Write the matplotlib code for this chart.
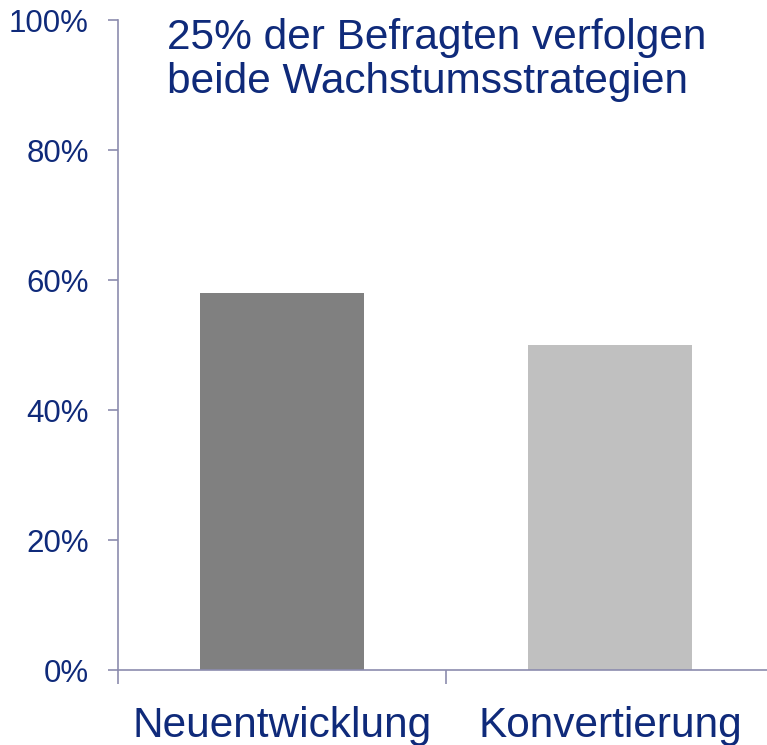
import matplotlib.pyplot as plt
from matplotlib.ticker import FixedLocator, PercentFormatter

plt.rcParams['font.family'] = ['Liberation Sans', 'DejaVu Sans']

categories = ["Neuentwicklung", "Konvertierung"]
values = [58, 50]
bar_colors = ["#808080", "#C0C0C0"]
yticks = [0, 20, 40, 60, 80, 100]
title = "25% der Befragten verfolgen\nbeide Wachstumsstrategien"

text_color = "#0F2A7A"
axis_color = "#8C8CAE"

fig = plt.figure(figsize=(7.67, 7.45), dpi=100)
ax = fig.add_axes([118 / 767, 75 / 745, 656 / 767, 650 / 745])

x = range(len(categories))
ax.bar(x, values, width=0.5, color=bar_colors)

ax.set_xlim(-0.5, len(categories) - 0.5)
ax.set_ylim(0, 100)
ax.set_yticks(yticks)
ax.yaxis.set_major_formatter(PercentFormatter(decimals=0))

# category labels sit between boundary ticks
ax.xaxis.set_major_locator(FixedLocator([-0.5, 0.5, 1.5]))
ax.xaxis.set_ticklabels([])
ax.xaxis.set_minor_locator(FixedLocator(list(x)))
ax.xaxis.set_ticklabels(categories, minor=True)
ax.tick_params(axis="x", which="minor", length=0, pad=26,
               labelsize=30.5, labelcolor=text_color)
ax.tick_params(axis="x", which="major", length=10, width=1.2, color=axis_color)
ax.tick_params(axis="y", length=7, width=1.2, color=axis_color, pad=14,
               labelsize=22.5, labelcolor=text_color)

for side in ["top", "right"]:
    ax.spines[side].set_visible(False)
for side in ["left", "bottom"]:
    ax.spines[side].set_color(axis_color)
    ax.spines[side].set_linewidth(1.2)

fig.text(167 / 767, 1 - 18 / 745, title, ha="left", va="top",
         fontsize=30.5, color=text_color, linespacing=1.12)

fig.savefig("out.png", dpi=100)
